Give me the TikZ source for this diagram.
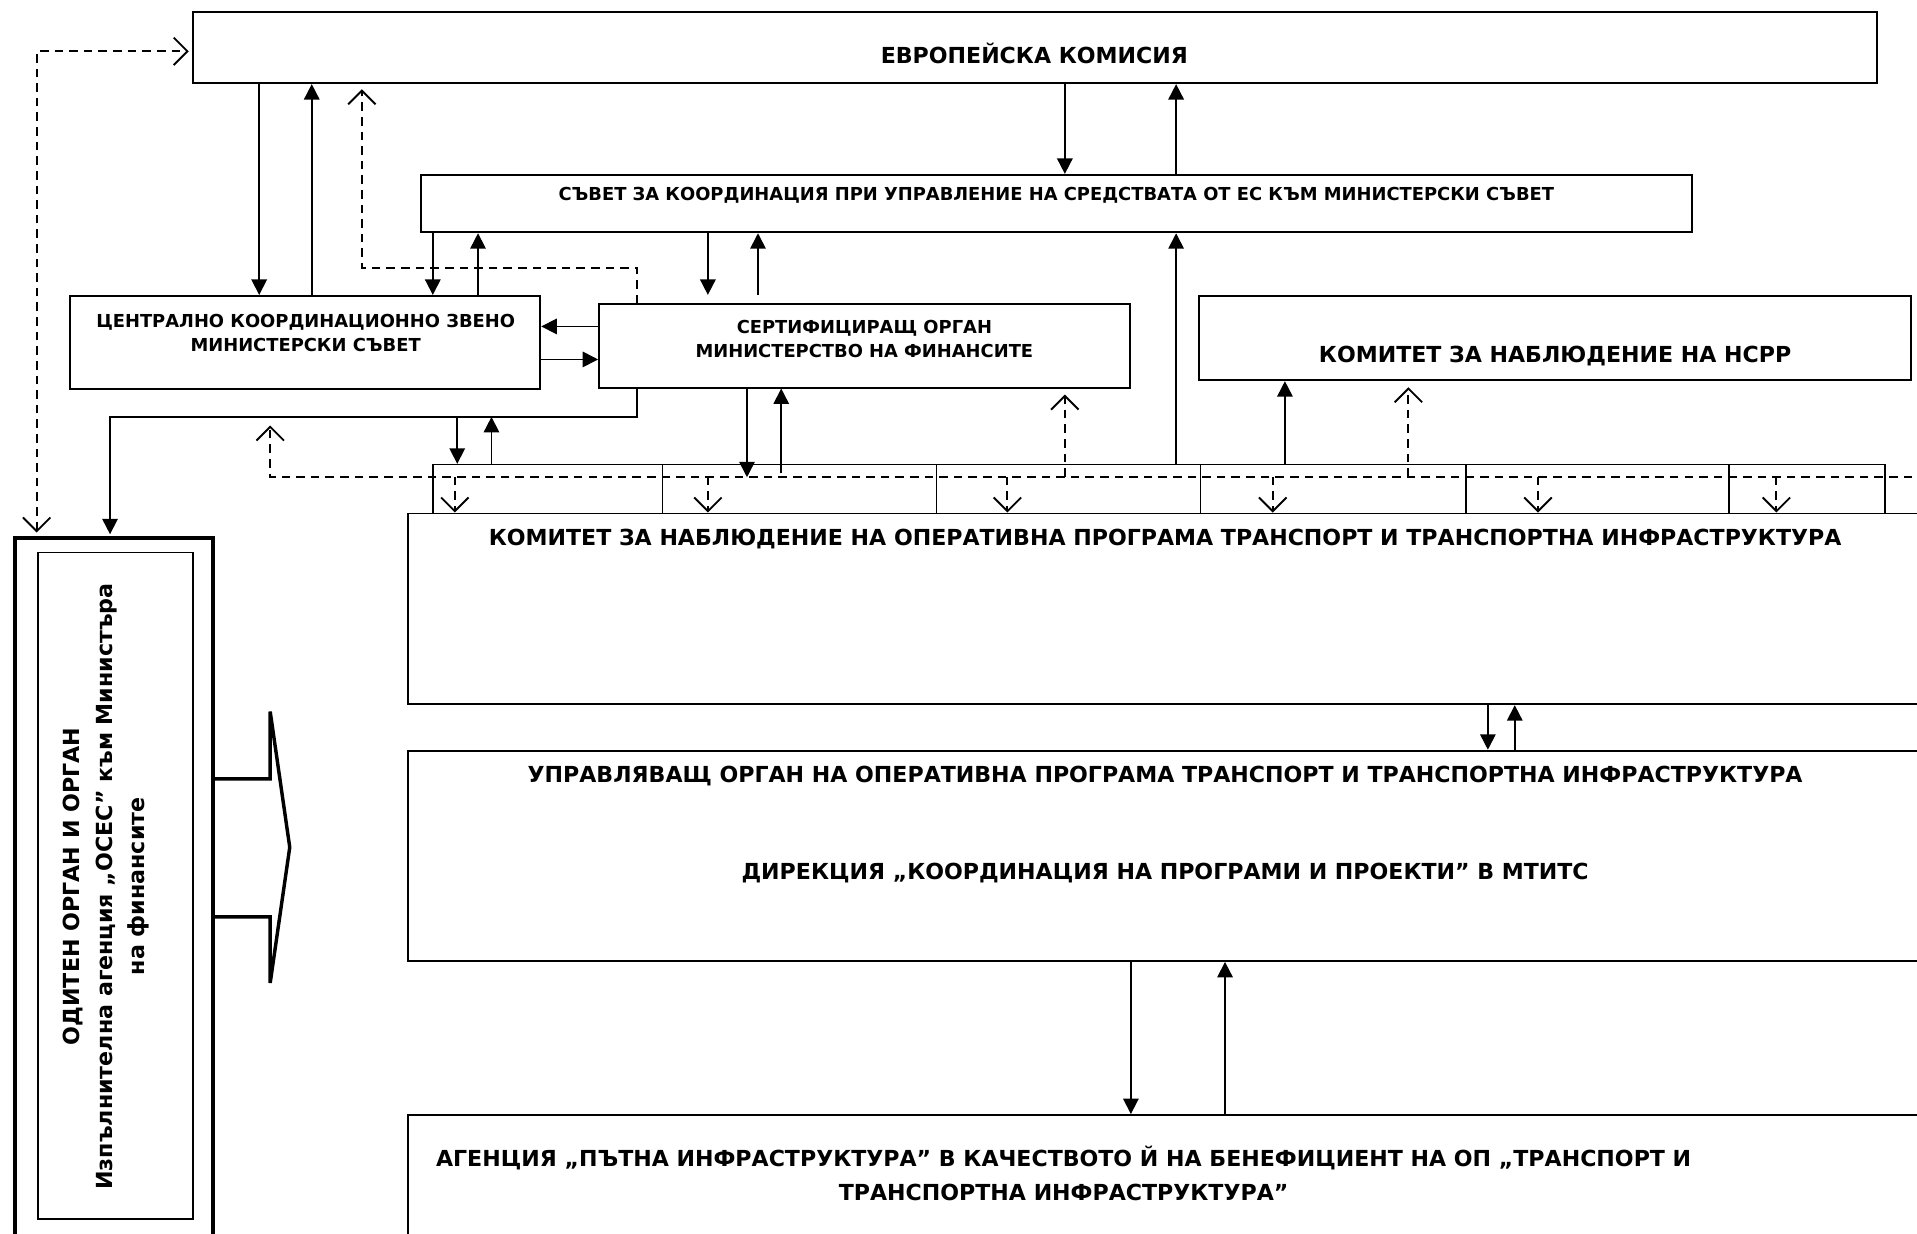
\documentclass[tikz,border=0pt]{standalone}
\usepackage{fontspec}
\setmainfont{DejaVu Sans}
\usetikzlibrary{arrows.meta}
\usetikzlibrary{fit}
\usetikzlibrary{positioning}

\begin{document}
\begin{tikzpicture}[
        x=0.025cm, y=-0.025cm,
        >={Straight Barb[length=8pt,width=16pt]},
        box/.style={draw, line width=1.1pt, inner sep=0pt},
        cell/.style={draw, line width=0.9pt, inner sep=0pt},
        big/.style={font=\fontsize{12.85}{20}\selectfont\bfseries, align=center, inner sep=0pt},
        small/.style={font=\fontsize{10.4}{14}\selectfont\bfseries, align=center, inner sep=0pt},
        arr/.style={line width=1pt, -{Triangle[length=9pt,width=9pt]}},
        darr/.style={line width=1.1pt, dash pattern=on 5pt off 3.5pt, ->}
    ]
    \path[use as bounding box, clip] (0,0) rectangle (1568,1009);
    \fill[white] (0,0) rectangle (1568,1009);

    \node[box, fit={(158,10) (1535,68)}] (ek) {};
    \node[box, fit={(344,143) (1384,190)}] (svet) {};
    \node[box, fit={(57,242) (442,318)}] (ckz) {};
    \node[box, fit={(490,249) (924,317)}] (sert) {};
    \node[box, fit={(981,242) (1563,311)}] (ksrr) {};
    \foreach \a/\b [count=\i] in {354/542, 542/766, 766/982, 982/1199, 1199/1414, 1414/1542}
        \node[cell, fit={(\a,380) (\b,420)}] (c\i) {};
    \node[box, fit={(334,420) (1600,576)}] (kop) {};
    \node[box, fit={(334,614) (1600,786)}] (uo) {};
    \node[box, fit={(334,912) (1600,1040)}] (api) {};
    \node[draw, line width=2.3pt, inner sep=0pt, fit={(12,440) (174,1040)}] (oo) {};
    \node[box, line width=0.9pt, fit={(31,452) (158,997)}] (ooin) {};

    \node[big] (ektxt) at (846,44) {ЕВРОПЕЙСКА КОМИСИЯ};
    \node[small] (svettxt) at (864,160) {СЪВЕТ ЗА КООРДИНАЦИЯ ПРИ УПРАВЛЕНИЕ НА СРЕДСТВАТА ОТ ЕС КЪМ МИНИСТЕРСКИ СЪВЕТ};
    \node[small] (ckztxt) at (250,272) {ЦЕНТРАЛНО КООРДИНАЦИОННО ЗВЕНО\\МИНИСТЕРСКИ СЪВЕТ};
    \node[small] (serttxt) at (707,277) {СЕРТИФИЦИРАЩ ОРГАН\\МИНИСТЕРСТВО НА ФИНАНСИТЕ};
    \node[big] (ksrrtxt) at (1272,291) {КОМИТЕТ ЗА НАБЛЮДЕНИЕ НА НСРР};
    \node[big] (koptxt) at (953,441) {КОМИТЕТ ЗА НАБЛЮДЕНИЕ НА ОПЕРАТИВНА ПРОГРАМА ТРАНСПОРТ И ТРАНСПОРТНА ИНФРАСТРУКТУРА};
    \node[big] (uotxt) at (953,635) {УПРАВЛЯВАЩ ОРГАН НА ОПЕРАТИВНА ПРОГРАМА ТРАНСПОРТ И ТРАНСПОРТНА ИНФРАСТРУКТУРА};
    \node[big] (dirtxt) at (953,714) {ДИРЕКЦИЯ „КООРДИНАЦИЯ НА ПРОГРАМИ И ПРОЕКТИ” В МТИТС};
    \node[big] (apitxt) at (870,960) {АГЕНЦИЯ „ПЪТНА ИНФРАСТРУКТУРА” В КАЧЕСТВОТО Й НА БЕНЕФИЦИЕНТ НА ОП „ТРАНСПОРТ И\\ТРАНСПОРТНА ИНФРАСТРУКТУРА”};
    \node[big, font=\fontsize{12.9}{19}\selectfont\bfseries, rotate=90] (ootxt) at (87,725) {ОДИТЕН ОРГАН И ОРГАН\\Изпълнителна агенция „ОСЕС” към Министъра\\на финансите};

    \draw[line width=2pt, line join=miter] (oo.east |- 0,637) -- (221,637) -- (221,582) -- (237,693) -- (221,804) -- (221,750) -- (oo.east |- 0,750);

    \coordinate (bus) at (90,341);
    \coordinate (dashR) at (1600,390);
    \coordinate (dashL) at (221,348);

    \draw[arr] (ek.south -| 212,0) -- (ckz.north -| 212,0);
    \draw[arr] (ckz.north -| 255,0) -- (ek.south -| 255,0);
    \draw[arr] (ek.south -| 871,0) -- (svet.north -| 871,0);
    \draw[arr] (svet.north -| 962,0) -- (ek.south -| 962,0);
    \draw[arr] (svet.south -| 354,0) -- (ckz.north -| 354,0);
    \draw[arr] (ckz.north -| 391,0) -- (svet.south -| 391,0);
    \draw[arr, shorten >=5pt] (svet.south -| 579,0) -- (sert.north -| 579,0);
    \draw[arr, shorten <=5pt] (sert.north -| 620,0) -- (svet.south -| 620,0);
    \draw[arr] (sert.west |- 0,267) -- (ckz.east |- 0,267);
    \draw[arr] (ckz.east |- 0,294) -- (sert.west |- 0,294);
    \draw[arr] (c3.north -| 962,0) -- (svet.south -| 962,0);
    \draw[arr] (c4.north -| 1051,0) -- (ksrr.south -| 1051,0);
    \draw[arr, shorten >=1pt] (sert.south -| 521,0) |- (bus) -- (oo.north -| bus);
    \draw[arr] (bus -| 374,0) -- (c1.north -| 374,0);
    \draw[arr] (c1.north -| 402,0) -- (bus -| 402,0);
    \draw[arr, shorten >=-7.8pt] (sert.south -| 611,0) -- (c2.north -| 611,0);
    \draw[arr, shorten <=-5.5pt] (c2.north -| 639,0) -- (sert.south -| 639,0);
    \draw[arr] (kop.south -| 1217,0) -- (uo.north -| 1217,0);
    \draw[arr] (uo.north -| 1239,0) -- (kop.south -| 1239,0);
    \draw[arr] (uo.south -| 925,0) -- (api.north -| 925,0);
    \draw[arr] (api.north -| 1002,0) -- (uo.south -| 1002,0);

    \draw[darr, <->, shorten <=2pt, shorten >=2pt] (oo.north -| 30,0) -- (30,42) -- (ek.west |- 0,42);
    \draw[darr, shorten >=3pt] (sert.north -| 521,0) |- (296,219) -- (ek.south -| 296,0);
    \draw[darr] (dashR) -| (dashL);
    \draw[darr, shorten >=3.5pt] (dashR -| 871,0) -- (sert.south -| 871,0);
    \draw[darr, shorten >=3.5pt] (dashR -| 1152,0) -- (ksrr.south -| 1152,0);
    \foreach \x in {372,579,824,1041,1258,1453}
        \draw[darr] (dashR -| \x,0) -- (kop.north -| \x,0);
\end{tikzpicture}
\end{document}
